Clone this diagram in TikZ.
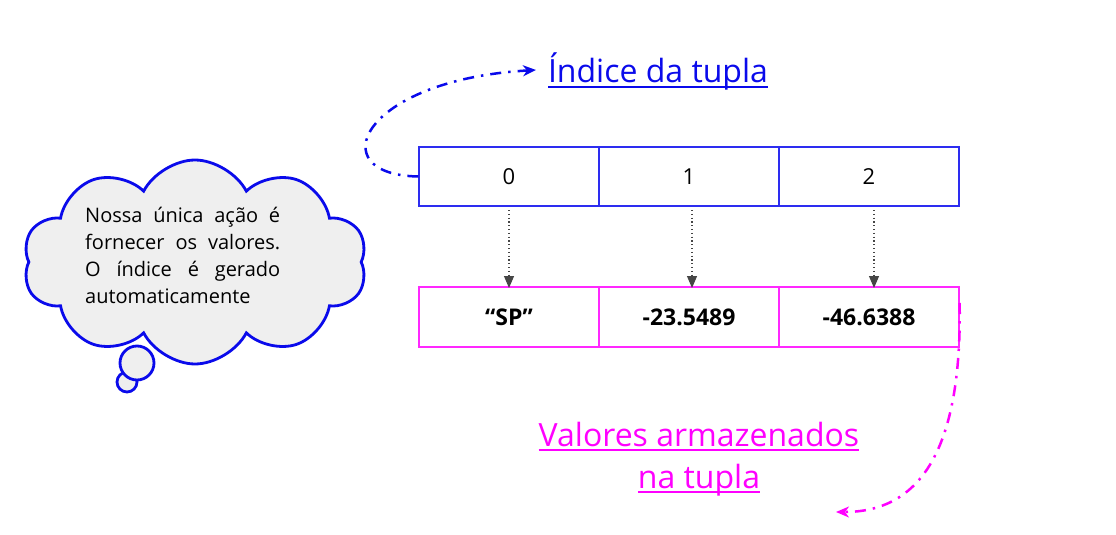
\documentclass[tikz,border=0pt]{standalone}
\usepackage{fontspec}
\setmainfont{Open Sans}
\usetikzlibrary{shapes.symbols,arrows.meta}
\definecolor{cblue}{RGB}{10,10,235}
\definecolor{boxblue}{RGB}{45,45,240}
\definecolor{cmag}{RGB}{255,0,255}
\definecolor{boxmag}{RGB}{255,40,255}
\definecolor{cloudfill}{RGB}{239,239,239}
\definecolor{dotgray}{RGB}{70,70,70}
\newcommand\ulin[2]{\setbox0=\hbox{#2}\leavevmode\rlap{\raisebox{-#1}{\rule{\wd0}{2pt}}}\box0}
\begin{document}
\begin{tikzpicture}[x=1pt,y=-1pt,
  idxcell/.style={draw=boxblue,line width=1.3pt,minimum width=180pt,minimum height=59pt,inner sep=0pt,font=\fontsize{22}{26}\selectfont},
  valcell/.style={draw=boxmag,line width=1.3pt,minimum width=180pt,minimum height=60pt,inner sep=0pt,font=\bfseries\fontsize{23}{27}\selectfont},
  dotarrow/.style={draw=dotgray,line width=1.1pt,dash pattern=on 1.2pt off 2.6pt,-{Triangle[length=12pt,width=10pt,fill=dotgray]}},
  dashdot/.style={line width=2.5pt,dash pattern=on 11pt off 7pt on 2.5pt off 7pt},
  puff/.style={draw=cblue,fill=cloudfill,line width=2.8pt},
  label/.style={font=\fontsize{32}{38}\selectfont,inner sep=0pt,anchor=base}]
\useasboundingbox (0,0) rectangle (1116,535);
% cloud
\node[puff,circle,minimum size=20pt,inner sep=0pt] (tail2) at (127,382) {};
\node[puff,circle,minimum size=34pt,inner sep=0pt] (tail1) at (137,363) {};
\node[puff,cloud,cloud puffs=10,cloud puff arc=125,
  minimum width=344pt,minimum height=204pt,inner sep=0pt] (cloud) at (195,262) {};
\node[anchor=north west,inner sep=0pt,text width=195pt,align=justify,
  font=\fontsize{20}{27}\selectfont] (note) at (85,207)
  {\hyphenpenalty=10000 Nossa única ação é\linebreak fornecer os valores.\linebreak O índice é gerado\linebreak automaticamente};
% index cells
\node[idxcell] (i0) at (509,176.5) {0};
\node[idxcell] (i1) at (689,176.5) {1};
\node[idxcell] (i2) at (869,176.5) {2};
% value cells
\node[valcell] (v0) at (509,317) {“SP”};
\node[valcell] (v1) at (689,317) {-23.5489};
\node[valcell] (v2) at (869,317) {-46.6388};
% dotted arrows
\coordinate (s0) at (509,210); \coordinate (s1) at (692,210); \coordinate (s2) at (874,210);
\coordinate (t0) at (509,288); \coordinate (t1) at (692,288); \coordinate (t2) at (874,288);
\draw[dotarrow] (s0) -- (t0);
\draw[dotarrow] (s1) -- (t1);
\draw[dotarrow] (s2) -- (t2);
% labels
\node[label,text=cblue] (idxlab) at (658,82) {\ulin{6pt}{Índice da tupla}};
\node[label,text=cmag] (vallab1) at (699,446) {\ulin{5pt}{Valores armazenados}};
\node[label,text=cmag] (vallab2) at (699,488) {\ulin{5pt}{na tupla}};
% curved arrows
\coordinate (idxtip) at (536,70);
\coordinate (valtip) at (836,512);
\draw[cblue,dashdot,-{Stealth[length=13pt,width=11pt,inset=4pt]}] (i0.west) .. controls (320,175) and (360,80) .. (idxtip);
\draw[cmag,dashdot,-{Stealth[length=13pt,width=11pt,inset=4pt]}] ([yshift=14pt]v2.east) .. controls (962,450) and (920,512) .. (valtip);
\end{tikzpicture}
\end{document}
